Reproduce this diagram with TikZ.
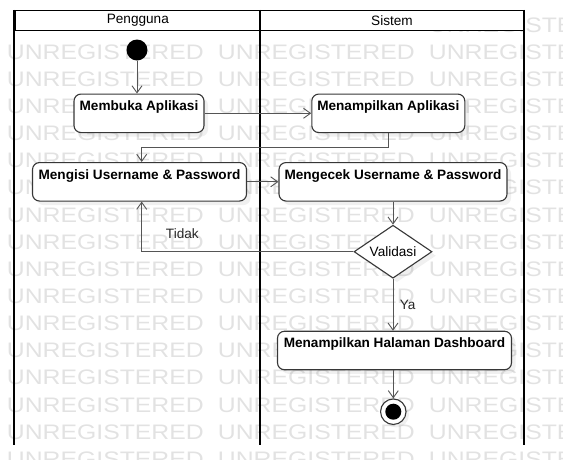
\documentclass[tikz,border=0pt]{standalone}
\usepackage{fontspec}
\setmainfont{Liberation Sans}
\newfontfamily\wmfont[FakeStretch=1.18]{Liberation Sans}
\usepackage{tikz}
\usetikzlibrary{arrows.meta,shapes,positioning,shadows}
\usepackage{xcolor}
\definecolor{umlline}{RGB}{85,85,85}
\definecolor{umlborder}{RGB}{55,55,55}
\definecolor{umlmark}{RGB}{226,226,226}
\tikzstyle{flow} = [line width=0.9pt, -{Straight Barb[length=7pt,width=10pt]}, color=umlline]
\tikzstyle{activity} = [rectangle, rounded corners=7pt, draw=umlborder, fill=white, line width=1.1pt, font=\fontsize{13.6}{15}\selectfont\bfseries, inner xsep=5pt, inner ysep=0pt, text height=16.7pt, text depth=21.8pt, drop shadow={opacity=0.12, shadow xshift=4pt, shadow yshift=-4pt}]
\tikzstyle{decision} = [diamond, aspect=1.47, draw=umlborder, fill=white, line width=1.1pt, inner sep=0pt, minimum width=78pt, minimum height=53pt, font=\fontsize{13.6}{15}\selectfont, drop shadow={opacity=0.12, shadow xshift=4pt, shadow yshift=-4pt}]
\tikzstyle{lane} = [rectangle, draw=black, line width=1.5pt, fill=white, minimum height=20pt, inner sep=0pt, font=\fontsize{13.6}{15}\selectfont]
\tikzstyle{lbl} = [font=\fontsize{13.6}{15}\selectfont, text=black!85]
\tikzstyle{watermark} = [anchor=base west, inner sep=0pt, text=umlmark, font=\wmfont\fontsize{21}{21}\selectfont]

\begin{document}
\begin{tikzpicture}[x=1pt, y=-1pt]
\useasboundingbox (0,0) rectangle (563,459);
% Watermark
\begin{scope}
\clip (0,0) rectangle (563,459);
\node (wm-0-2) [watermark] at (428.7,32) {UNREGISTERED};
\foreach \r in {1,...,16} {
  \foreach \c in {0,1,2} {
    \node (wm-\r-\c) [watermark] at ({6.7+211*\c}, {32+27.15*\r}) {UNREGISTERED};
  }
}
\end{scope}

% Lanes
\coordinate (laneEnd) at (0,445);
\node (lanePengguna) [lane, minimum width=245.7pt] at (137.85,20.5) {Pengguna};
\node (laneSistem) [lane, minimum width=262.6pt] at (392,20.5) {Sistem};
\draw[line width=2pt] (lanePengguna.north west) -- (lanePengguna.north west |- laneEnd);
\draw[line width=2pt] (laneSistem.north west) -- (laneSistem.north west |- laneEnd);
\draw[line width=2pt] (laneSistem.north east) -- (laneSistem.north east |- laneEnd);

% Nodes
\node (start) [circle, fill=black, minimum size=21pt, inner sep=0pt] at (137,50) {};
\node (buka) [activity, minimum width=130pt] at (139,113.3) {Membuka Aplikasi};
\node (tampil) [activity, minimum width=153pt] at (388.3,113.3) {Menampilkan Aplikasi};
\node (isi) [activity, minimum width=214pt] at (139.5,181.8) {Mengisi Username \& Password};
\node (cek) [activity, minimum width=228pt] at (393,181.8) {Mengecek Username \& Password};
\node (valid) [decision] at (393,251.7) {Validasi};
\node (dash) [activity, minimum width=234pt] at (394.5,350.5) {Menampilkan Halaman Dashboard};
\node (stop) [circle, draw=umlborder, fill=white, line width=1.1pt, minimum size=25.5pt, inner sep=0pt, drop shadow={opacity=0.12, shadow xshift=3pt, shadow yshift=-3pt}] at (393.3,411.7) {};
\node (stopDot) [circle, fill=black, minimum size=16pt, inner sep=0pt] at (stop) {};

% Arrows
\draw[flow] (start) -- (start |- buka.north);
\draw[flow] (buka) -- (tampil);
\draw[flow] (tampil.south) -- ++(0,14.6) -| ([xshift=2.2pt]isi.north);
\draw[flow] (isi) -- (cek);
\draw[flow] (cek.south -| valid) -- (valid.north);
\draw[flow] (valid.west) -| node[lbl, pos=0.404, above=9pt] (tidak) {Tidak} ([xshift=2.2pt]isi.south);
\draw[flow] (valid) -- node[lbl, right=3pt] (ya) {Ya} (dash.north -| valid);
\draw[flow] (dash.south -| stop) -- (stop);
\end{tikzpicture}
\end{document}
